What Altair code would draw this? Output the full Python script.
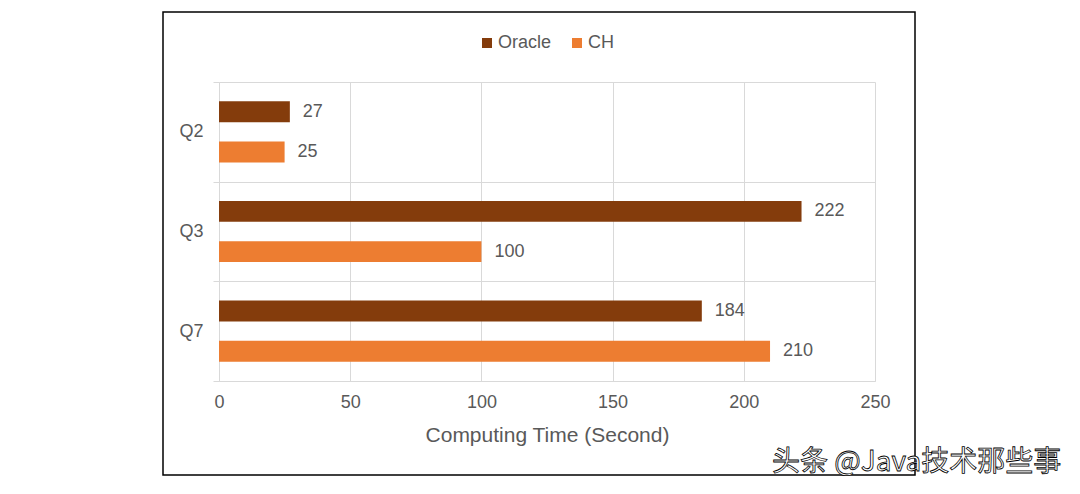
import altair as alt
import pandas as pd

queries = ["Q2", "Q3", "Q7"]
series = ["Oracle", "CH"]
oracle_vals = [27, 222, 184]
ch_vals = [25, 100, 210]
colors = ["#843C0C", "#ED7D31"]
x_ticks = [0, 50, 100, 150, 200, 250]

rows = []
for q, o, c in zip(queries, oracle_vals, ch_vals):
    rows.append({"query": q, "series": "Oracle", "value": o})
    rows.append({"query": q, "series": "CH", "value": c})
df = pd.DataFrame(rows)

FONT = "Liberation Sans"
GRAY = "#595959"
GRID = "#D9D9D9"

base = alt.Chart(df).encode(
    y=alt.Y(
        "query:N",
        sort=queries,
        scale=alt.Scale(paddingInner=0, paddingOuter=0),
        axis=alt.Axis(
            title=None,
            tickBand="extent",
            grid=True,
            gridColor=GRID,
            tickColor=GRID,
            tickSize=6,
            domainColor=GRID,
            labelFontSize=18,
            labelColor=GRAY,
            labelFont=FONT,
            labelPadding=10,
        ),
    ),
    yOffset=alt.YOffset(
        "series:N",
        sort=series,
        scale=alt.Scale(paddingInner=0.48, paddingOuter=0.48),
    ),
    x=alt.X(
        "value:Q",
        scale=alt.Scale(domain=[0, 250], nice=False),
        axis=alt.Axis(
            title="Computing Time (Second)",
            values=x_ticks,
            grid=True,
            gridColor=GRID,
            ticks=False,
            domainColor=GRID,
            labelFlush=False,
            labelFontSize=18,
            labelColor=GRAY,
            labelFont=FONT,
            labelPadding=12,
            titleFontSize=21,
            titleFontWeight="normal",
            titleColor=GRAY,
            titleFont=FONT,
            titlePadding=13,
        ),
    ),
)

bars = base.mark_bar().encode(
    color=alt.Color(
        "series:N",
        sort=series,
        scale=alt.Scale(domain=series, range=colors),
        legend=alt.Legend(
            title=None,
            orient="none",
            direction="horizontal",
            legendX=259,
            legendY=-48,
            symbolType="square",
            symbolSize=100,
            symbolStrokeWidth=0,
            labelFontSize=18,
            labelColor=GRAY,
            labelFont=FONT,
            labelOffset=2,
            columnPadding=16,
            padding=0,
        ),
    )
)

labels = base.mark_text(
    align="left", baseline="middle", dx=13, fontSize=18, color=GRAY, font=FONT
).encode(text=alt.Text("value:Q"))

one = pd.DataFrame({"k": [0]})
border = alt.Chart(one).mark_rect(
    fill="transparent", stroke="black", strokeWidth=1.5
).encode(
    x=alt.value(-56), x2=alt.value(696), y=alt.value(-70), y2=alt.value(393)
)

watermark = alt.Chart(one).mark_text(
    text="头条 @Java技术那些事",
    align="left",
    baseline="middle",
    font="Noto Sans CJK SC",
    fontSize=28,
    fill="white",
    stroke="black",
    strokeWidth=0.8,
).encode(x=alt.value(553), y=alt.value(381))

chart = (
    alt.layer(bars, labels, border, watermark)
    .properties(
        width=656,
        height=299,
        autosize=alt.AutoSizeParams(type="none"),
        padding={"left": 211, "top": 74, "right": 196, "bottom": 104},
        background="white",
    )
    .configure_view(stroke=None)
)

chart.save("out.html", embed_options={"renderer": "svg", "actions": False})
